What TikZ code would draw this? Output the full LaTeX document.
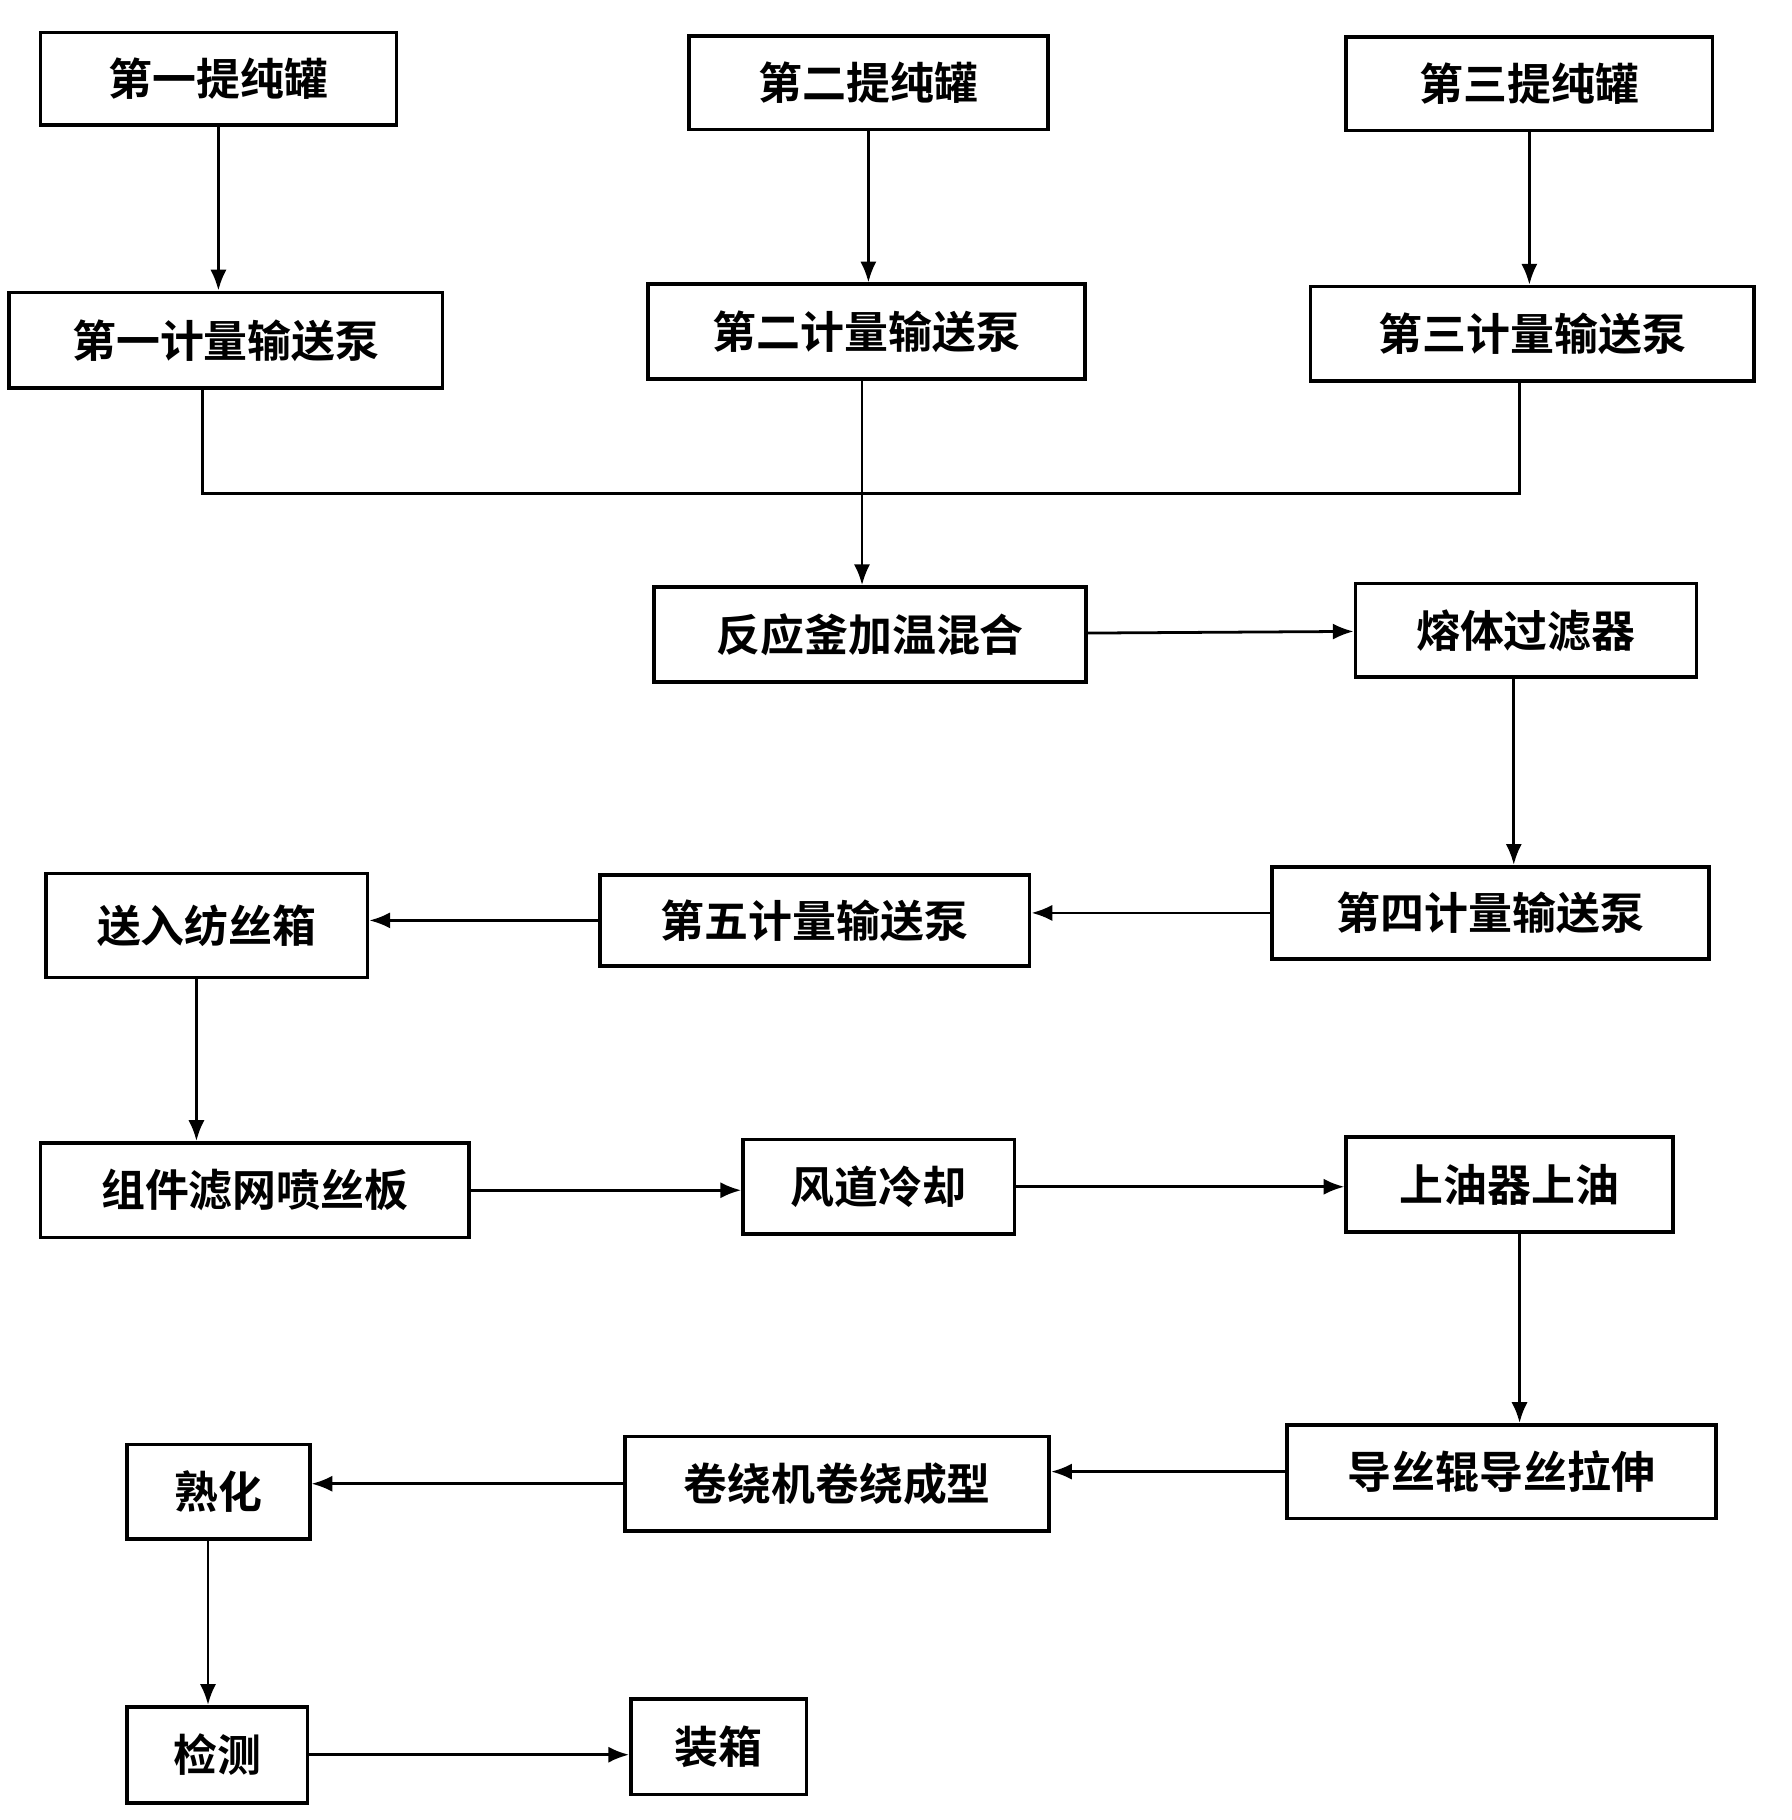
\documentclass[tikz,border=0pt]{standalone}
\usepackage{fontspec}
\setmainfont{Noto Sans CJK SC}[BoldFont={Noto Sans CJK SC Bold}]
\usetikzlibrary{arrows.meta}
\tikzset{
  box/.style={draw,line width=1.6pt,font=\bfseries\fontsize{19pt}{21pt}\selectfont,inner sep=0pt},
  flow/.style={line width=1.2pt,-{Latex[length=9pt,width=7pt]}},
  merge/.style={line width=1.2pt}
}
\newcommand{\blk}[6]{% name, x1, y1, x2, y2, text
  \node[box,minimum width={(#4-#2)*0.5pt},minimum height={(#5-#3)*0.5pt}] (#1) at ({(#2+#4)/2},{(#3+#5)/2}) {#6};}
\begin{document}
\begin{tikzpicture}[x=0.5pt,y=-0.5pt]
\useasboundingbox (0,0) rectangle (1550,1575);
% tanks
\blk{t1}{35}{28}{343}{108}{第一提纯罐}
\blk{t2}{596}{31}{907}{112}{第二提纯罐}
\blk{t3}{1165}{32}{1482}{113}{第三提纯罐}
% pumps
\blk{p1}{8}{253}{383}{336}{第一计量输送泵}
\blk{p2}{561}{246}{939}{328}{第二计量输送泵}
\blk{p3}{1134}{248}{1518}{330}{第三计量输送泵}
\blk{mix}{566}{508}{940}{590}{反应釜加温混合}
\blk{flt}{1173}{505}{1468}{586}{熔体过滤器}
\blk{p4}{1101}{750}{1479}{830}{第四计量输送泵}
\blk{p5}{519}{757}{891}{836}{第五计量输送泵}
\blk{spin}{40}{756}{318}{846}{送入纺丝箱}
\blk{plate}{35}{989}{406}{1071}{组件滤网喷丝板}
\blk{air}{643}{986}{878}{1068}{风道冷却}
\blk{oil}{1165}{984}{1448}{1066}{上油器上油}
\blk{draw}{1114}{1233}{1485}{1314}{导丝辊导丝拉伸}
\blk{wind}{541}{1243}{908}{1325}{卷绕机卷绕成型}
\blk{cure}{110}{1250}{268}{1332}{熟化}
\blk{test}{110}{1477}{266}{1560}{检测}
\blk{pack}{546}{1470}{698}{1553}{装箱}
\coordinate (m) at (746,427);
% connectors
\draw[flow] (t1) -- (t1 |- p1.north);
\draw[flow] (t2) -- (t2 |- p2.north);
\draw[flow] (t3) -- (t3 |- p3.north);
\draw[merge] (p1.south -| 175,0) |- (m) -| (p3.south -| 1315,0);
\draw[flow] (p2.south -| 746,0) -- (mix.north -| 746,0);
\draw[flow] (mix) -- (flt);
\draw[flow] (flt.south -| 1310,0) -- (p4.north -| 1310,0);
\draw[flow] (p4) -- (p4 -| p5.east);
\draw[flow] (p5) -- (p5 -| spin.east);
\draw[flow] (spin.south -| 170,0) -- (plate.north -| 170,0);
\draw[flow] (plate) -- (plate -| air.west);
\draw[flow] (air) -- (air -| oil.west);
\draw[flow] (oil.south -| 1315,0) -- (draw.north -| 1315,0);
\draw[flow] (draw) -- (draw -| wind.east);
\draw[flow] (wind) -- (wind -| cure.east);
\draw[flow] (cure.south -| 180,0) -- (test.north -| 180,0);
\draw[flow] (test) -- (test -| pack.west);
\end{tikzpicture}
\end{document}
